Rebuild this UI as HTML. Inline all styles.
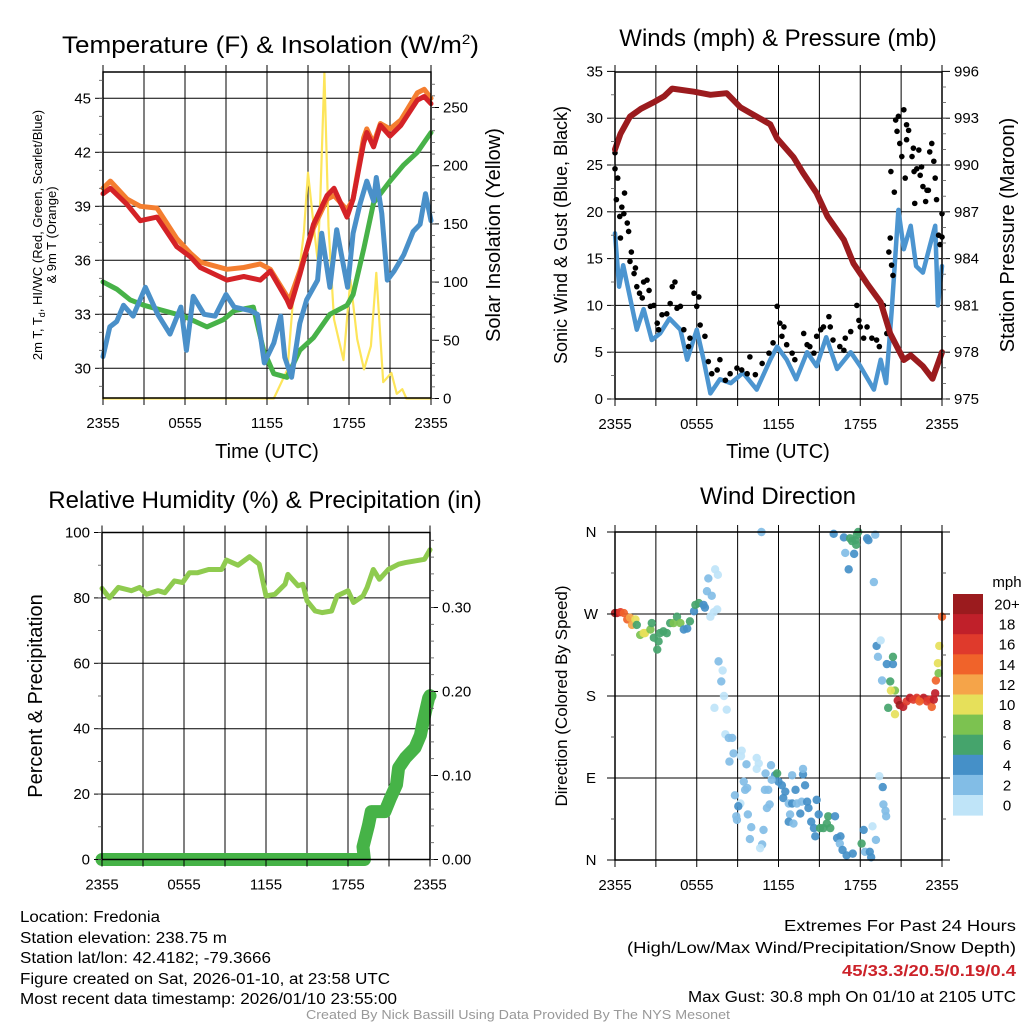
<!DOCTYPE html>
<html><head><meta charset="utf-8">
<style>
html,body{margin:0;padding:0;background:#fff;}
svg{display:block;font-family:"Liberation Sans",Arial,sans-serif;}
</style></head>
<body>
<svg id="fig" width="1024" height="1024" viewBox="0 0 1024 1024" xmlns="http://www.w3.org/2000/svg">
<rect width="1024" height="1024" fill="#fff"/>
<text x="62" y="53" font-size="24" textLength="417" lengthAdjust="spacingAndGlyphs">Temperature (F) &amp; Insolation (W/m<tspan font-size="14" dy="-9">2</tspan><tspan dy="9">)</tspan></text>
<text x="778" y="46" font-size="24" text-anchor="middle">Winds (mph) &amp; Pressure (mb)</text>
<text x="265" y="508" font-size="24" text-anchor="middle">Relative Humidity (%) &amp; Precipitation (in)</text>
<text x="778" y="504" font-size="24" text-anchor="middle">Wind Direction</text>

<text x="267" y="458" font-size="20" text-anchor="middle">Time (UTC)</text>
<text x="778" y="458" font-size="20" text-anchor="middle">Time (UTC)</text>

<text transform="translate(42,235) rotate(-90)" font-size="13" text-anchor="middle">2m T, T<tspan font-size="9" dy="3">d</tspan><tspan dy="-3">, HI/WC (Red, Green, Scarlet/Blue)</tspan></text>
<text transform="translate(56,235) rotate(-90)" font-size="13" text-anchor="middle">&amp; 9m T (Orange)</text>
<text transform="translate(500,235) rotate(-90)" font-size="20" text-anchor="middle">Solar Insolation (Yellow)</text>
<text transform="translate(567,235) rotate(-90)" font-size="18" text-anchor="middle">Sonic Wind &amp; Gust (Blue, Black)</text>
<text transform="translate(1014,235) rotate(-90)" font-size="20" text-anchor="middle">Station Pressure (Maroon)</text>
<text transform="translate(42,696) rotate(-90)" font-size="20" text-anchor="middle">Percent &amp; Precipitation</text>
<text transform="translate(567,696) rotate(-90)" font-size="17" text-anchor="middle">Direction (Colored By Speed)</text>

<g font-size="15.5">
<text x="20" y="922" textLength="140" lengthAdjust="spacingAndGlyphs">Location: Fredonia</text>
<text x="20" y="943" textLength="207" lengthAdjust="spacingAndGlyphs">Station elevation: 238.75 m</text>
<text x="20" y="963" textLength="251" lengthAdjust="spacingAndGlyphs">Station lat/lon: 42.4182; -79.3666</text>
<text x="20" y="984" textLength="370" lengthAdjust="spacingAndGlyphs">Figure created on Sat, 2026-01-10, at 23:58 UTC</text>
<text x="20" y="1004" textLength="377" lengthAdjust="spacingAndGlyphs">Most recent data timestamp: 2026/01/10 23:55:00</text>
</g>
<g font-size="15.5" text-anchor="end">
<text x="1016" y="931" textLength="232" lengthAdjust="spacingAndGlyphs">Extremes For Past 24 Hours</text>
<text x="1016" y="953" textLength="389" lengthAdjust="spacingAndGlyphs">(High/Low/Max Wind/Precipitation/Snow Depth)</text>
<text x="1016" y="976" textLength="174" lengthAdjust="spacingAndGlyphs" fill="#cc2229" font-weight="bold">45/33.3/20.5/0.19/0.4</text>
<text x="1016" y="1002" textLength="328" lengthAdjust="spacingAndGlyphs">Max Gust: 30.8 mph On 01/10 at 2105 UTC</text>
</g>
<text x="518" y="1019" font-size="12.5" fill="#999" text-anchor="middle" textLength="424" lengthAdjust="spacingAndGlyphs">Created By Nick Bassill Using Data Provided By The NYS Mesonet</text>
<g id="layer"></g>
</svg>
<script>
// ---------- DATA ----------
const timeTickLabels = ["2355","0555","1155","1755","2355"];
const tempTicks = [30,33,36,39,42,45];
const insolTicks = [0,50,100,150,200,250];
const windTicks = [0,5,10,15,20,25,30,35];
const presTicks = [975,978,981,984,987,990,993,996];
const rhTicks = [0,20,40,60,80,100];
const precipTicks = [0.00,0.10,0.20,0.30];
const dirTicks = [0,90,180,270,360];
const dirTickLabels = ["N","E","S","W","N"];
const speedBinLabels = ["0","2","4","6","8","10","12","14","16","18","20+"];

const tempHours = [0,0.54,1.76,2.73,3.95,5.41,6.39,7.12,9.07,10.3,11.5,12.24,13.46,13.7,14.4,15.4,16.4,16.9,17.85,18.3,19.07,19.3,19.8,20.3,21,21.8,23,23.5,24];
const tempValues = [39.7,40.0,39.1,38.2,38.4,36.75,36.2,35.6,34.9,35.1,34.9,35.4,33.8,33.4,35.2,38.0,39.6,40.0,38.4,39.4,42.5,43.1,42.3,43.5,42.9,43.5,44.9,45.1,44.7];
const temp9mValues = [40.0,40.4,39.4,39.0,38.9,37.2,36.4,35.9,35.5,35.6,35.8,35.5,34.0,33.9,35.4,37.8,39.4,39.6,38.8,39.4,42.8,43.3,42.5,43.6,43.3,43.8,45.3,45.5,45.0];
const dewHours = [0,0.5,1,2,3,5.9,7.6,8.8,9.6,11,11.75,12.5,13.46,14.4,15.4,16.6,17.85,18.3,19.1,19.8,21,22,23,24];
const dewValues = [34.8,34.6,34.4,33.8,33.5,32.9,32.3,32.7,33.2,33.4,31.0,29.7,29.5,31.0,31.7,33.0,33.5,34.1,36.7,39.2,40.4,41.3,42.0,43.1];
const chillHours = [0,0.5,1.0,1.5,2.2,3.1,4.0,4.9,5.7,6.1,6.6,7.4,8.2,9.0,9.6,10.8,11.3,11.8,12.5,13.0,13.3,13.8,14.4,14.9,15.7,16.0,16.6,17.1,17.9,18.3,18.8,19.3,19.8,20.0,20.4,20.8,21.3,22.0,22.7,23.2,23.6,24];
const chillValues = [30.65,32.3,32.6,33.5,32.9,34.5,33.0,31.9,33.4,31.0,34.0,33.0,32.9,34.1,33.4,33.2,33.0,30.3,31.4,32.9,30.6,29.5,32.5,33.8,34.9,37.5,34.5,37.7,34.5,37.5,39.1,40.4,39.3,40.6,38.6,34.9,35.4,36.3,37.6,38.0,39.7,38.2];
const insolHours = [0,12.5,13.5,13.95,14.4,14.7,15.0,15.4,15.7,15.9,16.2,16.5,16.9,17.6,18.1,18.6,19.1,19.6,20.0,20.5,21.1,21.5,21.9,22.2,24];
const insolValues = [0,0,25,91,113,143,194,150,119,171,280,148,68,33,102,51,25,45,108,14,22,4,8,0,0];

const presHours = [0,0.4,1.1,1.9,2.8,3.6,4.2,5.8,7,8.2,9.2,10.4,11.4,11.9,13.1,13.8,14.8,15.6,16.8,17.5,18.5,19.5,20.2,21.2,21.7,22.6,23.3,24];
const presValues = [991.0,992.0,993.1,993.6,994.0,994.4,994.9,994.7,994.5,994.6,993.7,993.1,992.6,991.7,990.5,989.5,988.2,986.7,985.2,983.7,982.4,981.2,979.2,977.5,977.8,977.1,976.3,978.0];
const windHours = [0,0.3,0.6,1.6,2.1,2.7,3.3,4.0,4.8,5.3,6.0,6.5,7.0,7.7,8.5,9.4,10.4,11.4,11.9,12.6,13.3,14.1,14.8,15.5,16.3,17.3,18.0,19.0,19.5,19.9,20.3,20.8,21.2,21.7,22.1,22.6,23.1,23.5,23.7,24];
const windValues = [17.7,12,14.3,7.4,9.6,6.3,7,8.6,7.4,4.2,7.4,4.2,0.6,2.1,1.7,2.8,1,4.2,5.6,4.2,2.1,5,3.5,6.6,3.2,5,3.5,1,4.2,1.7,9.3,20.2,16,18.5,14.2,13.5,16.3,18.5,10,14.2];
const gustHours = [0,0,0.2,0.1,0.35,0.5,0.7,0.65,0.9,1.0,0.4,1.2,1.1,1.4,1.5,1.6,1.8,2.0,2.1,2.35,2.5,2.6,2.85,3.1,3.2,3.45,3.8,4.05,4.2,4.4,4.55,4.8,5.05,5.4,5.5,5.8,6.0,6.15,6.25,6.6,6.85,7.1,7.5,7.7,8.1,8.45,8.95,9.3,9.7,9.9,10.3,10.8,11.3,11.6,11.9,12.1,12.4,12.25,12.6,13.0,13.2,13.85,14.1,14.3,14.6,14.8,15.1,15.3,15.7,15.8,16.0,16.5,16.8,16.9,17.3,17.75,17.9,18.0,18.25,18.5,18.85,19.2,19.4,19.7,19.95,20.1,20.2,20.3,20.4,20.25,20.5,20.6,20.7,20.8,20.9,21.05,21.2,21.3,21.4,21.4,21.55,21.8,21.9,22.15,21.95,22.3,22.4,22.5,22.6,22.0,22.8,22.9,23.0,23.1,23.25,23.4,23.5,23.6,23.75,23.85,24.0,24.0];
const gustValues = [26.3,24.6,23.6,21.3,19.5,20.5,22.0,19.8,18.8,17.9,17.2,15.7,14.7,13.4,14.0,12.0,11.3,10.8,12.5,12.7,11.6,9.9,10.0,8.1,7.4,9.0,9.1,10.2,12.0,12.5,9.7,9.9,7.4,5.6,6.5,11.3,9.9,10.9,7.9,6.7,4.0,2.7,3.1,4.2,2.0,2.7,3.3,3.1,2.7,4.5,2.6,3.8,4.9,6.0,9.9,8.1,7.7,6.7,5.8,4.9,4.2,7.0,5.8,5.6,4.9,6.7,7.4,7.7,8.8,7.7,6.3,5.6,5.2,6.5,7.2,10.0,8.4,7.7,6.5,7.7,6.5,6.3,5.6,10.0,7.0,15.7,17.2,14.3,13.2,24.3,22.1,29.8,28.6,30.2,27.3,25.9,30.9,23.6,29.3,27.7,28.7,25.9,26.8,24.6,24.3,26.6,23.9,24.8,22.7,20.9,21.1,22.3,22.3,26.4,27.3,25.4,23.6,21.3,17.5,16.5,17.3,19.8];

const rhHours = [0,0.55,1.2,2.15,2.75,3.25,4.1,4.6,5.3,5.9,6.4,7.0,7.8,8.75,9.1,9.95,10.8,11.5,12.0,12.65,13.4,13.6,14.35,14.7,15.0,15.6,16.1,16.8,17.2,18.0,18.4,19.1,19.4,19.85,20.3,20.95,21.7,22.2,22.9,23.6,24];
const rhValues = [82.9,80,83.2,82.2,83.2,81.1,82.2,81.6,85.2,84.7,87.7,87.7,88.7,88.7,91.6,90,92.6,90.3,80.6,81.1,84.2,87.2,83.7,84.2,79.1,76,75.5,76,80.6,82.2,78.6,80.6,83.2,88.7,85.7,88.7,90.3,90.8,91.3,91.8,94.7];
const precipHours = [0,19.2,19.1,19.5,19.7,20.7,21.1,21.55,21.7,22.2,22.9,23.3,23.5,23.9,24];
const precipValues = [0,0,0.015,0.041,0.057,0.057,0.073,0.089,0.109,0.121,0.133,0.148,0.164,0.192,0.195];

const dirHours = [0,0.15,0.4,0.65,0.9,1.1,1.25,1.5,1.6,1.85,2.1,2.2,2.6,2.7,2.85,3.1,3.2,3.3,3.55,3.8,4.05,4.3,4.55,4.8,5.05,5.3,5.5,5.8,5.9,6.15,6.5,6.6,7.0,7.25,7.5,6.75,7.1,6.85,7.35,7.55,
 7.6,7.9,7.8,8.0,7.3,8.2,8.1,8.35,8.6,8.7,8.4,9.3,9.25,9.65,10.4,10.55,10.4,11.45,11.05,11.75,11.9,12.0,11.5,9.45,9.55,9.7,8.8,9.2,9.05,11.0,11.25,11.15,11.35,12.25,12.5,12.35,13.0,13.25,12.75,13.0,13.35,13.7,13.8,13.8,13.95,14.1,14.2,14.8,13.6,12.85,12.75,13.1,14.4,8.9,8.95,9.75,10.0,10.9,9.9,10.8,10.65,14.6,14.7,14.95,15.65,15.55,15.3,15.05,15.8,16.15,16.3,16.55,16.5,16.7,17.0,17.45,18.25,18.1,18.35,18.7,18.8,18.9,19.15,19.4,19.65,19.7,19.85,19.9,
 16.05,16.8,17.25,17.4,17.65,17.75,17.85,17.7,18.5,18.6,19.1,16.9,17.55,17.15,19.0,10.75,
 19.2,19.5,19.3,19.95,20.4,20.4,19.6,20.2,20.55,20.25,20.05,20.55,20.75,20.9,21.15,21.4,21.65,21.9,22.15,22.4,22.65,22.9,23.1,23.25,23.5,23.4,22.35,23.55,23.75,23.7,23.8,24.0];
const dirDegrees = [271,271,272,271,264,266,258,264,258,247,249,249,253,260,244,231,240,249,251,249,260,260,267,260,253,254,262,273,280,282,280,277,267,272,275,295,290,309,319,313,
 218,208,196,180,167,165,138,134,134,117,108,120,114,105,112,106,100,104,95,93,95,86,88,86,77,79,71,62,59,77,77,57,61,82,75,68,93,77,62,62,62,64,94,100,82,64,57,66,51,50,42,40,42,48,44,50,36,33,23,17,13,35,26,50,48,40,35,35,35,48,24,26,18,11,5,7,33,18,9,9,3,37,22,92,80,61,54,48,
 358,354,353,350,351,357,360,346,353,351,357,337,336,319,305,360,
 235,241,223,215,215,223,197,196,186,186,167,160,175,170,168,174,178,176,178,176,178,174,176,168,183,176,174,197,205,216,235,267];
const dirSpeeds = [21,19,17,15,15,13,13,11,7,9,11,11,9,7,7,7,7,7,7,7,7,9,7,9,5,5,7,5,7,7,5,5,1,1,1,3,3,3,1,1,
 3,1,3,1,1,1,1,3,3,3,3,1,1,3,1,1,1,3,3,5,7,5,3,3,3,3,3,1,5,3,3,3,3,5,5,5,3,5,3,5,3,3,5,3,5,5,5,5,5,3,5,3,5,3,3,3,3,3,3,3,1,5,5,5,7,7,7,7,7,5,5,5,3,5,5,5,5,7,3,5,5,1,3,1,5,3,3,3,
 5,5,7,7,7,7,7,7,5,5,3,3,5,5,3,3,
 5,1,3,5,5,7,3,7,9,11,7,11,19,21,19,17,19,17,17,15,19,17,17,15,19,19,15,15,9,11,11,15];

// ---------- DRAW ----------
const NS = "http://www.w3.org/2000/svg";
const layer = document.getElementById("layer");
function mk(tag, attrs, parent) {
  const e = document.createElementNS(NS, tag);
  for (const k in attrs) e.setAttribute(k, attrs[k]);
  (parent || layer).appendChild(e);
  return e;
}
const speedColors = ["#bfe4f8","#82bde6","#4590c8","#45a46c","#7cc250","#e6e05a","#f5a449","#f0632a","#df3a2c","#c0202a","#9b1b1e"];
function speedColor(s){ let b = Math.floor(s/2); if (b>10) b=10; if(b<0) b=0; return speedColors[b]; }

function makePanel(name, x0, x1, y0, y1) {
  const g = mk("g", {});
  
  
  const xs = h => x0 + h / 24 * (x1 - x0);
  return {g, x0, x1, y0, y1, xs};
}
function grid(p, yMajorPx) {
  for (let h = 3; h < 24; h += 3) {
    const l = mk("line", {x1:p.xs(h), x2:p.xs(h), y1:p.y0, y2:p.y1, stroke:"#000", "stroke-width":1}, p.g);
    
    
  }
  yMajorPx.forEach(y => {
    if (Math.abs(y - p.y0) < 1 || Math.abs(y - p.y1) < 1) return;
    const l = mk("line", {x1:p.x0, x2:p.x1, y1:y, y2:y, stroke:"#000", "stroke-width":1}, p.g);
    
    
  });
}
function frame(p) {
  const r = mk("rect", {x:p.x0, y:p.y0, width:p.x1-p.x0, height:p.y1-p.y0, fill:"none", stroke:"#000", "stroke-width":1.5}, p.g);
  
  
  for (let h = 0; h <= 24; h += 3) {
    mk("line", {x1:p.xs(h), x2:p.xs(h), y1:p.y1, y2:p.y1+7, stroke:"#000"}, p.g);
    mk("line", {x1:p.xs(h), x2:p.xs(h), y1:p.y0, y2:p.y0-7, stroke:"#000"}, p.g);
  }
  timeTickLabels.forEach((lab, i) => {
    const t = mk("text", {x:p.xs(i*6), y:p.y1+30, "font-size":15, "text-anchor":"middle"}, p.g);
    
    
    t.textContent = lab;
  });
}
function yAxis(p, side, ticks, scale, fmt, minorStep, lo, hi) {
  const x = side === "left" ? p.x0 : p.x1;
  const dir = side === "left" ? -1 : 1;
  ticks.forEach(v => {
    const y = scale(v);
    mk("line", {x1:x, x2:x+dir*8, y1:y, y2:y, stroke:"#000"}, p.g);
    const t = mk("text", {x:x+dir*12, y:y+5, "font-size":15, "text-anchor": side==="left"?"end":"start"}, p.g);
    
    
    t.textContent = fmt(v);
  });
  if (minorStep) {
    for (let v = lo; v <= hi + 1e-9; v += minorStep) {
      const y = scale(v);
      if (y < p.y0 - 0.5 || y > p.y1 + 0.5) continue;
      mk("line", {x1:x, x2:x+dir*4, y1:y, y2:y, stroke:"#555", "stroke-width":0.8}, p.g);
    }
  }
}
function line(p, hours, vals, yscale, color, width, name) {
  const d = hours.map((h, i) => (i ? "L" : "M") + p.xs(h).toFixed(1) + "," + yscale(vals[i]).toFixed(1)).join("");
  const e = mk("path", {d, fill:"none", stroke:color, "stroke-width":width, "stroke-linejoin":"round", "stroke-linecap":"round"}, p.g);
  
  
}

// Panel 1: temperature
const p1 = makePanel("temperature-panel", 103, 431, 72, 398);
const yT = v => 98.3 + (45 - v) * 18;
const yI = v => 398.5 - v * 1.164;
grid(p1, tempTicks.map(yT));
line(p1, insolHours, insolValues, yI, "#fde55a", 2.2, "insolation-line");
line(p1, dewHours, dewValues, yT, "#47b248", 5, "dewpoint-line");
line(p1, chillHours, chillValues, yT, "#4a90c9", 5, "windchill-line");
line(p1, tempHours, temp9mValues, yT, "#f47e30", 5, "temp-9m-line");
line(p1, tempHours, tempValues, yT, "#d42227", 5, "temp-2m-line");
frame(p1);
yAxis(p1, "left", tempTicks, yT, v => String(v), 1, 29, 46);
yAxis(p1, "right", insolTicks, yI, v => String(v), 10, 0, 270);

// Panel 2: winds & pressure
const p2 = makePanel("wind-pressure-panel", 615, 942, 72, 399);
const yW = v => 399 - v * 9.36;
const yP = v => 399 - (v - 975) * 15.6;
grid(p2, windTicks.map(yW));
line(p2, windHours, windValues, yW, "#4c95d0", 4.5, "sonic-wind-line");
gustHours.forEach((h, i) => {
  const c = mk("circle", {cx:p2.xs(h), cy:yW(gustValues[i]), r:2.8, fill:"#000"}, p2.g);
  
  
});
line(p2, presHours, presValues, yP, "#9b1b1e", 6, "pressure-line");
frame(p2);
yAxis(p2, "left", windTicks, yW, v => String(v), 2.5, 0, 35);
yAxis(p2, "right", presTicks, yP, v => String(v), 1, 975, 996);

// Panel 3: RH & precip
const p3 = makePanel("rh-precip-panel", 102, 430, 532.5, 859.5);
const yR = v => 859.5 - v * 3.27;
const yPr = v => 859.5 - v * 840;
grid(p3, rhTicks.map(yR));
line(p3, rhHours, rhValues, yR, "#8fcb4f", 5, "rh-line");
line(p3, precipHours, precipValues, yPr, "#46b347", 13, "precip-line");
frame(p3);
yAxis(p3, "left", rhTicks, yR, v => String(v), 10, 0, 100);
yAxis(p3, "right", precipTicks, yPr, v => v.toFixed(2), 0.02, 0, 0.38);

// Panel 4: wind direction
const p4 = makePanel("wind-direction-panel", 615, 942, 532, 860);
const yD = d => 860 - d / 360 * 328;
grid(p4, dirTicks.map(yD));
dirHours.forEach((h, i) => {
  const c = mk("circle", {cx:p4.xs(h), cy:yD(dirDegrees[i]), r:4.2, fill:speedColor(dirSpeeds[i]), "fill-opacity":0.92}, p4.g);
  
  
});
frame(p4);
dirTicks.forEach((d, i) => {
  const y = yD(d);
  mk("line", {x1:p4.x0, x2:p4.x0-8, y1:y, y2:y, stroke:"#000"}, p4.g);
  mk("line", {x1:p4.x1, x2:p4.x1+8, y1:y, y2:y, stroke:"#000"}, p4.g);
  const t = mk("text", {x:p4.x0-24, y:y+5, "font-size":15, "text-anchor":"middle"}, p4.g);
  
  
  t.textContent = dirTickLabels[i];
});
for (let d = 45; d < 360; d += 90) {
  mk("line", {x1:p4.x0, x2:p4.x0-4, y1:yD(d), y2:yD(d), stroke:"#555"}, p4.g);
  mk("line", {x1:p4.x1, x2:p4.x1+4, y1:yD(d), y2:yD(d), stroke:"#555"}, p4.g);
}

// Colorbar
const cb = mk("g", {});


const cbTop = 594, cbH = 20.1;
const cbTitle = mk("text", {x:1007, y:587, "font-size":15, "text-anchor":"middle"}, cb);


cbTitle.textContent = "mph";
speedBinLabels.slice().reverse().forEach((lab, i) => {
  const bin = speedBinLabels.length - 1 - i;
  const r = mk("rect", {x:953, y:cbTop + i*cbH, width:30, height:cbH+0.5, fill:speedColors[bin]}, cb);
  
  
  const t = mk("text", {x:1007, y:cbTop + i*cbH + 15.5, "font-size":15, "text-anchor":"middle"}, cb);
  
  
  t.textContent = lab;
});
</script>
</body></html>
